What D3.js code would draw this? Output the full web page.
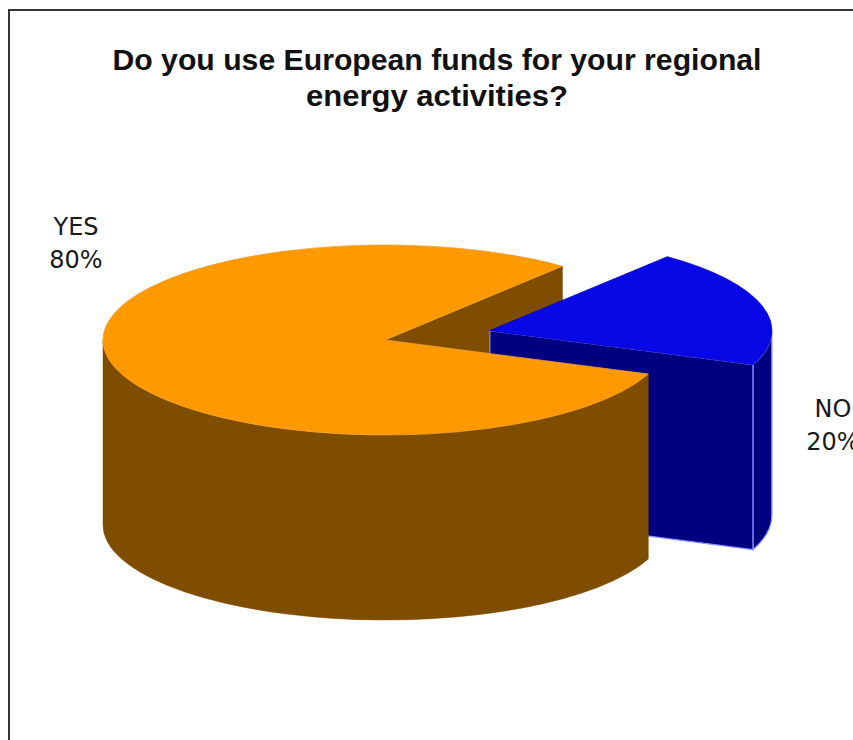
<!DOCTYPE html>
<html lang="en">
<head>
<meta charset="UTF-8">
<title>European funds 3D pie</title>
<style>
  html, body { margin: 0; padding: 0; background: #fff; overflow: hidden; }
  svg { display: block; }
  .title { font-family: "Liberation Sans", Arial, sans-serif; font-weight: bold; font-size: 30px; fill: #111; }
  .label { font-family: "DejaVu Sans", Verdana, sans-serif; font-size: 24px; fill: #1a1a1a; }
</style>
</head>
<body>
<div id="chart"></div>
<script src="https://cdn.jsdelivr.net/npm/d3@7"></script>
<script>
// data
const categories = ["NO", "YES"];
const values = [20, 80];
const topColors = ["#0808e6", "#ff9900"];
const sideColors = ["#000080", "#7f4d00"];
const titleLines = ["Do you use European funds for your regional", "energy activities?"];

const W = 853, H = 740;
const rx = 282, ry = 95, depth = 185;
const cx = 385, cy = 340;
const explode = [0.385, 0];   // NO slice pulled out
const rad = Math.PI / 180;

const svg = d3.select("#chart").append("svg")
  .attr("width", W)
  .attr("height", H);

// frame (right and bottom edges run off the picture)
svg.append("rect")
  .attr("x", 9).attr("y", 10)
  .attr("width", 900).attr("height", 800)
  .attr("fill", "#fff")
  .attr("stroke", "#333")
  .attr("stroke-width", 2);

// title
const tWidths = [649, 262];
svg.selectAll(".title")
  .data(titleLines)
  .enter().append("text")
  .attr("class", "title")
  .attr("x", 437)
  .attr("y", (d, i) => 70 + i * 36)
  .attr("text-anchor", "middle")
  .attr("textLength", (d, i) => tWidths[i])
  .attr("lengthAdjust", "spacingAndGlyphs")
  .text(d => d);

const pie = d3.pie().sort(null)
  .startAngle(39 * rad)
  .endAngle(39 * rad + 2 * Math.PI);
const arcs = pie(values);

// centre of every slice after pulling it out along its bisector
arcs.forEach((a, i) => {
  const mid = (a.startAngle + a.endAngle) / 2;
  a.cx = cx + explode[i] * rx * Math.sin(mid);
  a.cy = cy - explode[i] * ry * Math.cos(mid);
  a.i = i;
});

function pt(a, ang, z) {
  return [a.cx + rx * Math.sin(ang), a.cy - ry * Math.cos(ang) + z];
}

function topPath(a) {
  const p0 = pt(a, a.startAngle, 0), p1 = pt(a, a.endAngle, 0);
  const large = (a.endAngle - a.startAngle) > Math.PI ? 1 : 0;
  return `M${a.cx},${a.cy}L${p0}A${rx},${ry} 0 ${large} 1 ${p1}Z`;
}

function sidePath(a, s, e) {
  const t0 = pt(a, s, 0), t1 = pt(a, e, 0), b1 = pt(a, e, depth), b0 = pt(a, s, depth);
  const large = (e - s) > Math.PI ? 1 : 0;
  return `M${t0}A${rx},${ry} 0 ${large} 1 ${t1}L${b1}A${rx},${ry} 0 ${large} 0 ${b0}Z`;
}

function facePath(a, ang) {
  const p = pt(a, ang, 0), q = pt(a, ang, depth);
  return `M${a.cx},${a.cy}L${p}L${q}L${a.cx},${a.cy + depth}Z`;
}

// radial faces that look towards the viewer
let faces = [];
arcs.forEach(a => {
  if (Math.sin(a.endAngle) > 0) faces.push({ a: a, ang: a.endAngle });
  if (Math.sin(a.startAngle) < 0) faces.push({ a: a, ang: a.startAngle });
});
faces.forEach(f => { f.depthY = (f.a.cy + pt(f.a, f.ang, 0)[1]) / 2; });
faces.sort((m, n) => m.depthY - n.depthY);

// outer walls: the front half of the cylinder (90..270 deg)
let sides = [];
arcs.forEach(a => {
  for (let k = -1; k <= 2; k++) {
    const s = Math.max(a.startAngle, (90 + 360 * k) * rad);
    const e = Math.min(a.endAngle, (270 + 360 * k) * rad);
    if (e > s) sides.push({ a: a, s: s, e: e });
  }
});

const g = svg.append("g");

g.selectAll(".face")
  .data(faces)
  .enter().append("path")
  .attr("class", "face")
  .attr("d", d => facePath(d.a, d.ang))
  .attr("fill", d => sideColors[d.a.i])
  .attr("stroke", d => d.a.i === 0 ? "#8c8cff" : sideColors[d.a.i])
  .attr("stroke-width", d => d.a.i === 0 ? 1.2 : 0.5)
  .attr("stroke-linejoin", "round");

g.selectAll(".side")
  .data(sides)
  .enter().append("path")
  .attr("class", "side")
  .attr("d", d => sidePath(d.a, d.s, d.e))
  .attr("fill", d => sideColors[d.a.i])
  .attr("stroke", d => d.a.i === 0 ? "#8c8cff" : sideColors[d.a.i])
  .attr("stroke-width", d => d.a.i === 0 ? 1.2 : 0.5);

g.selectAll(".top")
  .data(arcs)
  .enter().append("path")
  .attr("class", "top")
  .attr("d", topPath)
  .attr("fill", (d, i) => topColors[i])
  .attr("stroke", (d, i) => i === 0 ? "#0000c8" : "#f0a030")
  .attr("stroke-width", 0.8)
  .attr("stroke-linejoin", "round");

// labels
const labelPos = [[833, 417], [76, 235]];
const fmt = d3.format(".0%");
const total = d3.sum(values);
arcs.forEach((a, i) => {
  const t = svg.append("text")
    .attr("class", "label")
    .attr("text-anchor", "middle")
    .attr("x", labelPos[i][0])
    .attr("y", labelPos[i][1]);
  t.append("tspan").attr("x", labelPos[i][0]).text(categories[i]);
  t.append("tspan").attr("x", labelPos[i][0]).attr("dy", 33).text(fmt(values[i] / total));
});
</script>
</body>
</html>
